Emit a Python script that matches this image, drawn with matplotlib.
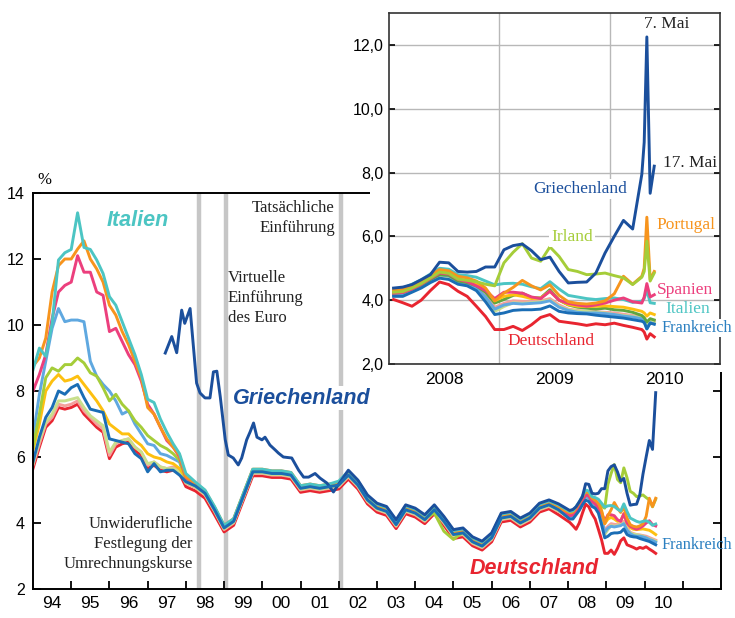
import matplotlib
matplotlib.use("Agg")
import matplotlib.pyplot as plt
import numpy as np
from matplotlib.patches import Rectangle

W, H = 735, 618
SERIF = "Liberation Serif"
plt.rcParams["font.family"] = "Liberation Sans"

# x grids (decimal years)
years_a = 1994 + np.arange(24) / 6            # bi-monthly 1994-1997
years_b = 1998 + np.arange(40) / 4            # quarterly 1998-2007
years_c = 2008 + (np.arange(28) + 0.5) / 12   # monthly Jan 2008 - Apr 2010
years_may = [2010.313, 2010.337, 2010.367, 2010.404]  # daily, May 2010

# 10-year government bond yields, %
italien_a = [8.64, 9.3, 9.05, 10.05, 11.97, 12.19, 12.29, 13.4, 12.35, 12.29, 11.97, 11.56,
             10.86, 10.6, 10.1, 9.6, 9.1, 8.5, 7.75, 7.65, 7.15, 6.75, 6.4, 6.1]
italien_b = [5.50, 5.24, 5.00, 4.50, 3.93, 4.13, 4.88, 5.63, 5.63, 5.58, 5.58, 5.53, 5.13, 5.18,
             5.13, 5.18, 5.27, 5.57, 5.27, 4.82, 4.57, 4.47, 4.07, 4.52, 4.42, 4.22, 4.52, 4.17,
             3.77, 3.82, 3.55, 3.42, 3.67, 4.27, 4.32, 4.12, 4.27, 4.57, 4.67, 4.55]
italien_c = [4.35, 4.37, 4.50, 4.64, 4.82, 5.00, 4.97, 4.80, 4.77, 4.72, 4.60, 4.48, 4.52, 4.53,
             4.50, 4.42, 4.36, 4.58, 4.35, 4.15, 4.10, 4.05, 4.02, 4.05, 4.07, 4.02, 3.93, 3.97]
italien_may = [4.05, 4.32, 3.92, 3.90]

portugal_a = [8.75, 9.0, 9.6, 11.0, 11.8, 12.0, 12.0, 12.3, 12.55, 12.0, 11.7, 11.3,
              10.6, 10.3, 9.8, 9.4, 8.9, 8.4, 7.5, 7.3, 6.9, 6.55, 6.3, 6.05]
portugal_b = [5.40, 5.20, 4.98, 4.48, 3.93, 4.13, 4.88, 5.63, 5.63, 5.58, 5.58, 5.53, 5.13, 5.18,
              5.13, 5.18, 5.21, 5.51, 5.21, 4.76, 4.51, 4.41, 4.01, 4.46, 4.36, 4.16, 4.46, 4.11,
              3.71, 3.76, 3.49, 3.36, 3.61, 4.21, 4.26, 4.06, 4.21, 4.51, 4.61, 4.46]
portugal_c = [4.31, 4.33, 4.45, 4.60, 4.78, 4.96, 4.92, 4.75, 4.70, 4.60, 4.38, 3.98, 4.22, 4.40,
              4.62, 4.45, 4.32, 4.48, 4.15, 3.95, 3.90, 3.88, 3.91, 3.98, 4.20, 4.75, 4.50, 4.75]
portugal_may = [5.0, 6.6, 4.65, 4.9]

spanien_a = [8.0, 8.5, 9.1, 10.2, 11.0, 11.2, 11.3, 12.1, 11.6, 11.6, 11.0, 10.9,
             9.8, 9.9, 9.5, 9.1, 8.8, 8.3, 7.6, 7.3, 6.9, 6.5, 6.3, 6.0]
spanien_b = [5.37, 5.18, 4.95, 4.45, 3.89, 4.09, 4.84, 5.59, 5.59, 5.54, 5.54, 5.49, 5.09, 5.14,
             5.09, 5.14, 5.19, 5.49, 5.19, 4.74, 4.49, 4.39, 3.99, 4.44, 4.34, 4.14, 4.44, 4.09,
             3.69, 3.74, 3.47, 3.34, 3.59, 4.19, 4.24, 4.04, 4.19, 4.49, 4.59, 4.44]
spanien_c = [4.22, 4.24, 4.35, 4.50, 4.68, 4.85, 4.82, 4.65, 4.58, 4.45, 4.30, 4.05, 4.25, 4.25,
             4.22, 4.10, 4.05, 4.28, 4.00, 3.90, 3.85, 3.81, 3.85, 3.91, 4.00, 4.07, 3.95, 3.91]
spanien_may = [4.1, 4.52, 4.1, 4.17]

irland_a = [6.3, 7.3, 8.4, 8.7, 8.6, 8.8, 8.8, 9.0, 8.85, 8.55, 8.45, 8.1,
            7.7, 7.9, 7.6, 7.4, 7.1, 6.9, 6.65, 6.5, 6.35, 6.25, 6.1, 5.9]
irland_b = [5.35, 5.16, 4.93, 4.43, 3.88, 4.08, 4.83, 5.58, 5.58, 5.53, 5.53, 5.48, 5.08, 5.13,
            5.08, 5.13, 5.18, 5.48, 5.18, 4.73, 4.48, 4.38, 3.98, 4.43, 4.33, 4.13, 4.30, 3.75,
            3.50, 3.73, 3.46, 3.33, 3.58, 4.18, 4.23, 4.03, 4.18, 4.48, 4.58, 4.43]
irland_c = [4.25, 4.27, 4.38, 4.52, 4.70, 4.88, 4.84, 4.66, 4.62, 4.58, 4.50, 4.45, 5.17, 5.50,
            5.77, 5.32, 5.22, 5.67, 5.37, 4.96, 4.90, 4.80, 4.82, 4.85, 4.77, 4.70, 4.49, 4.72]
irland_may = [4.9, 5.85, 4.6, 4.85]

belgien_a = [6.2, 7.0, 8.0, 8.3, 8.5, 8.3, 8.35, 8.45, 8.2, 7.95, 7.7, 7.4,
             7.0, 6.85, 6.7, 6.7, 6.5, 6.35, 6.1, 6.0, 5.95, 5.85, 5.8, 5.65]
belgien_b = [5.37, 5.20, 4.96, 4.46, 3.91, 4.11, 4.86, 5.61, 5.61, 5.56, 5.56, 5.51, 5.11, 5.16,
             5.11, 5.16, 5.21, 5.51, 5.21, 4.76, 4.51, 4.41, 4.01, 4.46, 4.36, 4.16, 4.46, 4.11,
             3.71, 3.76, 3.49, 3.36, 3.61, 4.21, 4.26, 4.06, 4.21, 4.51, 4.61, 4.46]
belgien_c = [4.26, 4.28, 4.38, 4.53, 4.70, 4.88, 4.85, 4.68, 4.62, 4.52, 4.35, 3.98, 4.12, 4.17,
             4.12, 4.05, 4.07, 4.28, 4.00, 3.86, 3.81, 3.80, 3.81, 3.82, 3.80, 3.78, 3.72, 3.65]
belgien_may = [3.6, 3.5, 3.6, 3.55]

finnland_a = [6.6, 7.9, 8.9, 9.9, 10.5, 10.1, 10.15, 10.15, 10.1, 8.9, 8.45, 8.2,
              8.0, 7.7, 7.3, 7.4, 7.0, 6.7, 6.4, 6.35, 6.1, 6.05, 5.95, 5.85]
finnland_b = [5.27, 5.14, 4.92, 4.42, 3.87, 4.07, 4.82, 5.57, 5.57, 5.52, 5.52, 5.47, 5.07, 5.12,
              5.07, 5.12, 5.17, 5.47, 5.17, 4.72, 4.47, 4.37, 3.97, 4.42, 4.32, 4.12, 4.42, 4.07,
              3.67, 3.72, 3.45, 3.32, 3.57, 4.17, 4.22, 4.02, 4.17, 4.47, 4.57, 4.42]
finnland_c = [4.17, 4.19, 4.30, 4.45, 4.62, 4.80, 4.76, 4.58, 4.50, 4.38, 4.10, 3.72, 3.85, 3.90,
              3.88, 3.90, 3.92, 3.98, 3.78, 3.68, 3.62, 3.60, 3.60, 3.58, 3.55, 3.50, 3.47, 3.42]
finnland_may = [3.35, 3.1, 3.3, 3.25]

oesterreich_a = [5.75, 6.4, 7.0, 7.2, 7.6, 7.55, 7.6, 7.7, 7.4, 7.2, 7.0, 6.85,
                 6.05, 6.4, 6.5, 6.55, 6.3, 6.15, 5.75, 5.85, 5.7, 5.65, 5.7, 5.6]
oesterreich_b = [5.20, 5.07, 4.85, 4.35, 3.80, 4.00, 4.75, 5.50, 5.50, 5.45, 5.45, 5.40, 5.00, 5.05,
                 5.00, 5.05, 5.10, 5.40, 5.10, 4.65, 4.40, 4.30, 3.90, 4.35, 4.25, 4.05, 4.35, 4.00,
                 3.60, 3.65, 3.38, 3.25, 3.50, 4.10, 4.15, 3.95, 4.10, 4.40, 4.50, 4.35]
oesterreich_c = [4.20, 4.22, 4.32, 4.47, 4.64, 4.82, 4.78, 4.60, 4.54, 4.42, 4.18, 3.78, 3.90, 3.98,
                 3.96, 3.95, 3.98, 4.05, 3.85, 3.72, 3.68, 3.65, 3.64, 3.62, 3.60, 3.56, 3.52, 3.48]
oesterreich_may = [3.45, 3.25, 3.4, 3.35]

niederlande_a = [5.8, 6.5, 7.05, 7.3, 7.7, 7.7, 7.75, 7.8, 7.5, 7.25, 7.1, 6.95,
                 6.15, 6.45, 6.5, 6.55, 6.3, 6.15, 5.8, 5.85, 5.7, 5.65, 5.65, 5.55]
niederlande_b = [5.22, 5.09, 4.87, 4.37, 3.82, 4.02, 4.77, 5.52, 5.52, 5.47, 5.47, 5.42, 5.02, 5.07,
                 5.02, 5.07, 5.12, 5.42, 5.12, 4.67, 4.42, 4.32, 3.92, 4.37, 4.27, 4.07, 4.37, 4.02,
                 3.62, 3.67, 3.40, 3.27, 3.52, 4.12, 4.17, 3.97, 4.12, 4.42, 4.52, 4.37]
niederlande_c = [4.15, 4.17, 4.27, 4.42, 4.60, 4.78, 4.74, 4.55, 4.48, 4.35, 4.05, 3.65, 3.80, 3.92,
                 3.90, 3.92, 3.95, 4.00, 3.80, 3.70, 3.66, 3.65, 3.62, 3.60, 3.55, 3.52, 3.49, 3.45]
niederlande_may = [3.38, 3.18, 3.36, 3.3]

luxemburg_c = [4.22, 4.24, 4.34, 4.48, 4.65, 4.80, 4.78, 4.60, 4.55, 4.45, 4.25, 3.91, 4.02, 4.15,
               4.22, 4.08, 4.07, 4.33, 4.00, 3.85, 3.78, 3.75, 3.72, 3.75, 3.70, 3.68, 3.62, 3.52]
luxemburg_may = [3.45, 3.32, 3.42, 3.38]

frankreich_a = [5.85, 6.6, 7.2, 7.5, 8.0, 7.9, 8.1, 8.2, 7.8, 7.45, 7.4, 7.35,
                6.55, 6.5, 6.45, 6.4, 6.1, 5.95, 5.55, 5.8, 5.55, 5.6, 5.6, 5.45]
frankreich_b = [5.25, 5.12, 4.90, 4.40, 3.85, 4.05, 4.80, 5.55, 5.55, 5.50, 5.50, 5.45, 5.05, 5.10,
                5.05, 5.10, 5.15, 5.45, 5.15, 4.70, 4.45, 4.35, 3.95, 4.40, 4.30, 4.10, 4.40, 4.05,
                3.65, 3.70, 3.43, 3.30, 3.55, 4.15, 4.20, 4.00, 4.15, 4.45, 4.55, 4.40]
frankreich_c = [4.12, 4.12, 4.25, 4.38, 4.55, 4.69, 4.65, 4.50, 4.45, 4.30, 3.95, 3.55, 3.60, 3.68,
                3.70, 3.70, 3.72, 3.82, 3.65, 3.60, 3.58, 3.57, 3.53, 3.50, 3.47, 3.44, 3.39, 3.34]
frankreich_may = [3.3, 3.1, 3.28, 3.25]

deutschland_a = [5.65, 6.3, 6.9, 7.1, 7.5, 7.45, 7.5, 7.6, 7.3, 7.1, 6.9, 6.75,
                 5.95, 6.3, 6.4, 6.45, 6.2, 6.05, 5.65, 5.75, 5.6, 5.55, 5.6, 5.5]
deutschland_b = [5.10, 4.97, 4.75, 4.25, 3.73, 3.93, 4.68, 5.43, 5.43, 5.38, 5.38, 5.33, 4.93, 4.98,
                 4.93, 4.98, 5.03, 5.33, 5.03, 4.58, 4.33, 4.23, 3.83, 4.28, 4.18, 3.98, 4.28, 3.93,
                 3.53, 3.58, 3.31, 3.18, 3.43, 4.03, 4.08, 3.88, 4.03, 4.33, 4.43, 4.25]
deutschland_c = [4.02, 3.92, 3.81, 4.00, 4.30, 4.57, 4.49, 4.28, 4.12, 3.81, 3.49, 3.08, 3.08, 3.18,
                 3.05, 3.23, 3.46, 3.55, 3.34, 3.30, 3.26, 3.21, 3.26, 3.23, 3.28, 3.21, 3.15, 3.08]
deutschland_may = [3.0, 2.78, 2.95, 2.85]

# Greece: own dates until 2002, then the quarterly grid from 2002.25
griechenland_early_years = [1997.46, 1997.63, 1997.76, 1997.89, 1997.97, 1998.11, 1998.28, 1998.37,
                            1998.50, 1998.63, 1998.72, 1998.81, 1998.90, 1999.03, 1999.11, 1999.24,
                            1999.37, 1999.46, 1999.59, 1999.68, 1999.77, 1999.86, 1999.99, 2000.07,
                            2000.20, 2000.34, 2000.42, 2000.55, 2000.77, 2000.95, 2001.08, 2001.21,
                            2001.38, 2001.51, 2001.69, 2001.86, 2002.04]
griechenland_early = [9.15, 9.65, 9.16, 10.45, 10.05, 10.5, 8.24, 7.94, 7.79, 7.79, 8.58, 8.6,
                      7.82, 6.52, 6.06, 5.97, 5.76, 5.97, 6.52, 6.76, 7.03, 6.6, 6.52, 6.6, 6.36,
                      6.21, 6.12, 6.0, 5.97, 5.6, 5.39, 5.39, 5.5, 5.36, 5.21, 4.94, 5.25]
griechenland_b = [5.60, 5.30, 4.85, 4.60, 4.50, 4.10, 4.55, 4.45, 4.25, 4.55, 4.20, 3.80, 3.85,
                  3.58, 3.45, 3.70, 4.30, 4.35, 4.15, 4.30, 4.60, 4.70, 4.58]
griechenland_c = [4.38, 4.41, 4.49, 4.64, 4.80, 5.19, 5.17, 4.90, 4.88, 4.90, 5.04, 5.04, 5.58, 5.71,
                  5.76, 5.55, 5.27, 5.35, 4.90, 4.54, 4.56, 4.57, 4.85, 5.48, 6.00, 6.50, 6.23, 7.95]
griechenland_may = [8.95, 12.25, 7.35, 8.2]

C = {
    "Griechenland": "#1b4f9c", "Italien": "#4cc5c3", "Portugal": "#f7941d",
    "Spanien": "#ec3f7d", "Irland": "#a5cd39", "Belgien": "#fdc010",
    "Luxemburg": "#5fa640", "Niederlande": "#c8df8c", "Finnland": "#5fa8e0",
    "Oesterreich": "#f4a09c", "Frankreich": "#1a6db5", "Deutschland": "#e82530",
}

# drawing order: bottom first
main_series = [
    ("Deutschland", deutschland_a, deutschland_b, deutschland_c),
    ("Oesterreich", oesterreich_a, oesterreich_b, oesterreich_c),
    ("Niederlande", niederlande_a, niederlande_b, niederlande_c),
    ("Finnland", finnland_a, finnland_b, finnland_c),
    ("Belgien", belgien_a, belgien_b, belgien_c),
    ("Irland", irland_a, irland_b, irland_c),
    ("Spanien", spanien_a, spanien_b, spanien_c),
    ("Portugal", portugal_a, portugal_b, portugal_c),
    ("Italien", italien_a, italien_b, italien_c),
]
inset_series = [
    ("Oesterreich", oesterreich_c, oesterreich_may),
    ("Niederlande", niederlande_c, niederlande_may),
    ("Finnland", finnland_c, finnland_may),
    ("Luxemburg", luxemburg_c, luxemburg_may),
    ("Belgien", belgien_c, belgien_may),
    ("Frankreich", frankreich_c, frankreich_may),
    ("Deutschland", deutschland_c, deutschland_may),
    ("Italien", italien_c, italien_may),
    ("Spanien", spanien_c, spanien_may),
    ("Portugal", portugal_c, portugal_may),
    ("Irland", irland_c, irland_may),
    ("Griechenland", griechenland_c, griechenland_may),
]

LW = 2.1


def fpos(x, y):
    return x / W, 1 - y / H


fig = plt.figure(figsize=(W / 100, H / 100), dpi=100)

# ---- main chart ----
ax = fig.add_axes([33 / W, 29 / H, 688 / W, 396 / H], zorder=0)
x_main = np.concatenate([years_a, years_b, years_c])
for yr in (1998.35, 1999.04, 2002.05):
    ax.axvline(yr, color="#c6c6c6", lw=3.2, zorder=1)
for name, a, b, c in main_series:
    ax.plot(x_main, a + b + c, color=C[name], lw=LW, solid_joinstyle="round", zorder=2)
gx = griechenland_early_years + list(years_b[17:]) + list(years_c)
ax.plot(gx, griechenland_early + griechenland_b + griechenland_c,
        color=C["Griechenland"], lw=LW, solid_joinstyle="round", zorder=2)
ax.plot(x_main, frankreich_a + frankreich_b + frankreich_c,
        color=C["Frankreich"], lw=LW, solid_joinstyle="round", zorder=2)

ax.set_xlim(1994, 2012)
ax.set_ylim(2, 14)
ax.set_yticks(range(2, 15, 2))
ax.set_xticks(np.arange(1995, 2012))
ax.set_xticks(np.arange(1994, 2011) + 0.5, minor=True)
ax.set_xticklabels([f"{y % 100:02d}" for y in range(1994, 2011)], minor=True)
ax.tick_params(axis="x", which="major", direction="in", length=6, width=1.3, labelbottom=False)
ax.tick_params(axis="x", which="minor", length=0, labelsize=12.5, pad=5)
ax.tick_params(axis="y", direction="in", length=6, width=1.3, right=True, labelsize=11.5, pad=6)
for s in ax.spines.values():
    s.set_linewidth(1.4)

# white block behind the inset
fig.patches.append(Rectangle(fpos(370, 372), 1 - 370 / W, 372 / H, transform=fig.transFigure,
                             fc="white", ec="none", zorder=1))

fig.text(*fpos(44, 180), "%", family=SERIF, fontsize=12, ha="center", va="center")
bold = dict(fontsize=15.5, fontweight="bold", style="italic", ha="center", va="center")
fig.text(*fpos(138, 220), "Italien", color=C["Italien"], **bold)
fig.text(*fpos(302, 398), "Griechenland", color=C["Griechenland"],
         bbox=dict(fc="white", ec="none", pad=1), **bold)
fig.text(*fpos(534, 568), "Deutschland", color=C["Deutschland"], **bold)
fig.text(*fpos(661, 545), "Frankreich", color="#2a7fc0", family=SERIF, fontsize=11.8, va="center")
note = dict(family=SERIF, fontsize=12, va="center", linespacing=1.3, color="#222222")
fig.text(*fpos(193, 544), "Unwiderufliche\nFestlegung der\nUmrechnungskurse", ha="right", **note)
fig.text(*fpos(228, 298), "Virtuelle\nEinführung\ndes Euro", ha="left", **note)
fig.text(*fpos(335, 218), "Tatsächliche\nEinführung", ha="right", **note)

# ---- inset 2008-2010 ----
ins = fig.add_axes([389 / W, 1 - 364 / H, 331 / W, 351 / H], zorder=2)
x_ins = np.concatenate([years_c, years_may])
for name, c, may in inset_series:
    ins.plot(x_ins, c + may, color=C[name], lw=LW, solid_joinstyle="round", zorder=2)
ins.set_xlim(2008, 2011)
ins.set_ylim(2, 13)
ins.set_yticks(range(2, 13, 2))
ins.set_yticklabels([f"{v},0" for v in range(2, 13, 2)])
ins.set_xticks([2009, 2010])
ins.set_xticks([2008.5, 2009.5, 2010.5], minor=True)
ins.set_xticklabels(["2008", "2009", "2010"], minor=True)
ins.tick_params(axis="x", which="major", length=0, labelbottom=False)
ins.tick_params(axis="x", which="minor", length=0, labelsize=12.5, pad=6)
ins.tick_params(axis="y", direction="in", length=4, width=1.2, right=True, labelsize=11.5, pad=4)
ins.grid(True, which="major", color="#b8b8b8", lw=1.0)
ins.set_axisbelow(True)
for s in ins.spines.values():
    s.set_linewidth(1.2)
    s.set_color("#333333")

serif = dict(family=SERIF, fontsize=12.5, va="center", zorder=4)
box = dict(fc="white", ec="none", pad=1.5)
fig.text(*fpos(644, 24), "7. Mai", color="#222222", **serif)
fig.text(*fpos(663, 163), "17. Mai", color="#222222", **serif)
fig.text(*fpos(533, 189), "Griechenland", color=C["Griechenland"], bbox=box, **serif)
fig.text(*fpos(551, 237), "Irland", color=C["Irland"], bbox=box, **serif)
fig.text(*fpos(656, 225), "Portugal", color=C["Portugal"], **serif)
fig.text(*fpos(657, 290), "Spanien", color=C["Spanien"], **serif)
fig.text(*fpos(665, 309), "Italien", color=C["Italien"], **serif)
fig.text(*fpos(661, 328), "Frankreich", color="#2a7fc0", bbox=dict(fc="white", ec="none", pad=0.5),
         family=SERIF, fontsize=11.8, va="center", zorder=4)
fig.text(*fpos(507, 341), "Deutschland", color=C["Deutschland"], **serif)

fig.savefig("out.png", dpi=100)
